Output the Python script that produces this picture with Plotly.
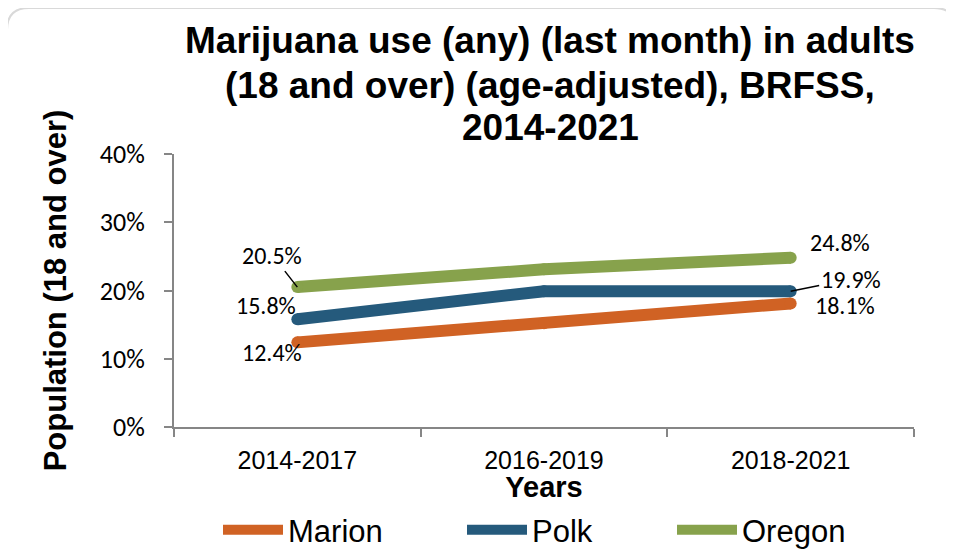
import plotly.graph_objects as go

# ---- data ----
periods = ["2014-2017", "2016-2019", "2018-2021"]
marion = [12.4, 15.2, 18.1]
polk = [15.8, 19.9, 19.9]
oregon = [20.5, 23.1, 24.8]
y_ticks = [0, 10, 20, 30, 40]
y_tick_labels = ["0%", "10%", "20%", "30%", "40%"]

title_lines = [
    "Marijuana use (any) (last month) in adults",
    "(18 and over) (age-adjusted), BRFSS,",
    "2014-2021",
]

C_MARION = "#D06224"
C_POLK = "#255A7C"
C_OREGON = "#87A24C"

ARIAL = "Liberation Sans, Arial, sans-serif"
CAL = "Carlito, Lato, sans-serif"

# page offset (body margin) so that screen pixel = figure pixel + OFF
OFF = 8
W_FIG, H_FIG = 954, 557
# plot area, in screen pixels
SL, SR, ST, SB = 174, 914, 154, 427
L, R, T, B = SL - OFF, SR - OFF, ST - OFF, SB - OFF
PW, PH = R - L, B - T


def px(sx):
    return (sx - OFF - L) / PW


def py(sy):
    return (B - (sy - OFF)) / PH


fig = go.Figure()

series = [("Marion", marion, C_MARION, "legend"),
          ("Polk", polk, C_POLK, "legend2"),
          ("Oregon", oregon, C_OREGON, "legend3")]

for name, vals, col, lg in series:
    fig.add_trace(go.Scatter(
        x=periods, y=vals, name=name, mode="lines",
        line=dict(color=col, width=12), legend=lg,
    ))
    # round caps/joins
    fig.add_trace(go.Scatter(
        x=periods, y=vals, mode="markers", showlegend=False,
        marker=dict(color=col, size=12, line=dict(width=0)),
        hoverinfo="skip",
    ))

annotations = []
# title lines
title_centers = [41, 85, 128]
for txt, cy in zip(title_lines, title_centers):
    annotations.append(dict(
        text="<b>%s</b>" % txt, xref="paper", yref="paper",
        x=px(550), y=py(cy), xanchor="center", yanchor="middle",
        showarrow=False, font=dict(family=ARIAL, size=37, color="black"),
    ))

lab_font = dict(family=CAL, size=24, color="black")


def lab(xcat, v, xs, ys):
    annotations.append(dict(
        x=xcat, y=v, xref="x", yref="y", text=f"{v:.1f}%",
        showarrow=False, xshift=xs, yshift=ys, font=lab_font,
    ))


def lab_arrow(xcat, v, ax, ay):
    annotations.append(dict(
        x=xcat, y=v, xref="x", yref="y", text=f"{v:.1f}%",
        showarrow=True, ax=ax, ay=ay, arrowhead=0, arrowwidth=1.5,
        arrowcolor="black", standoff=0, startstandoff=0, font=lab_font,
    ))


lab(periods[0], marion[0], -25, -10)
lab(periods[2], marion[2], 54, -2)
lab(periods[0], polk[0], -31, 14)
lab_arrow(periods[2], polk[2], 60, -12)
lab_arrow(periods[0], oregon[0], -25, -32)
lab(periods[2], oregon[2], 49, 15)

# rounded chart-area border (screen px)
bx0, by0, bx1, by1, r = 7, 8, 956, 640, 22
path = (f"M{px(bx0 + r)},{py(by0)} L{px(bx1 - r)},{py(by0)} "
        f"Q{px(bx1)},{py(by0)} {px(bx1)},{py(by0 + r)} L{px(bx1)},{py(by1)} "
        f"L{px(bx0)},{py(by1)} L{px(bx0)},{py(by0 + r)} "
        f"Q{px(bx0)},{py(by0)} {px(bx0 + r)},{py(by0)} Z")
shapes = [dict(type="path", path=path, xref="paper", yref="paper",
               line=dict(color="#D9D9D9", width=2), layer="below")]

leg_common = dict(orientation="h", yanchor="middle", xanchor="left",
                  xref="container", yref="container",
                  bgcolor="rgba(0,0,0,0)", borderwidth=0,
                  font=dict(family=ARIAL, size=31, color="black"),
                  itemwidth=60)
leg_y = (H_FIG - (530 - OFF)) / H_FIG


def lx(sx):
    return (sx - OFF) / W_FIG


fig.update_layout(
    width=W_FIG, height=H_FIG,
    margin=dict(l=L, r=W_FIG - R, t=T, b=H_FIG - B, autoexpand=False),
    paper_bgcolor="white", plot_bgcolor="white",
    showlegend=True,
    legend=dict(leg_common, x=lx(218), y=leg_y),
    legend2=dict(leg_common, x=lx(462), y=leg_y),
    legend3=dict(leg_common, x=lx(672), y=leg_y),
    annotations=annotations, shapes=shapes,
    xaxis=dict(
        type="category", range=[-0.5, 2.5], showgrid=False,
        showline=True, linecolor="#868686", linewidth=2,
        ticks="outside", tickson="boundaries", ticklen=8, tickwidth=2,
        tickcolor="#868686",
        tickfont=dict(family=ARIAL, size=25, color="black"),
        ticklabelstandoff=10, automargin=False,
        title=dict(text="<b>Years</b>", standoff=13,
                   font=dict(family=ARIAL, size=29, color="black")),
        fixedrange=True,
    ),
    yaxis=dict(
        range=[0, 40], tickvals=y_ticks, ticktext=y_tick_labels,
        showgrid=False,
        zeroline=False, showline=True, linecolor="#868686", linewidth=2,
        ticks="outside", ticklen=8, tickwidth=2, tickcolor="#868686",
        tickfont=dict(family=CAL, size=26, color="black"),
        ticklabelstandoff=14, automargin=False,
        title=dict(text="<b>Population (18 and over)</b>", standoff=24,
                   font=dict(family=ARIAL, size=31, color="black")),
        fixedrange=True,
    ),
)

fig.write_html("out.html")
